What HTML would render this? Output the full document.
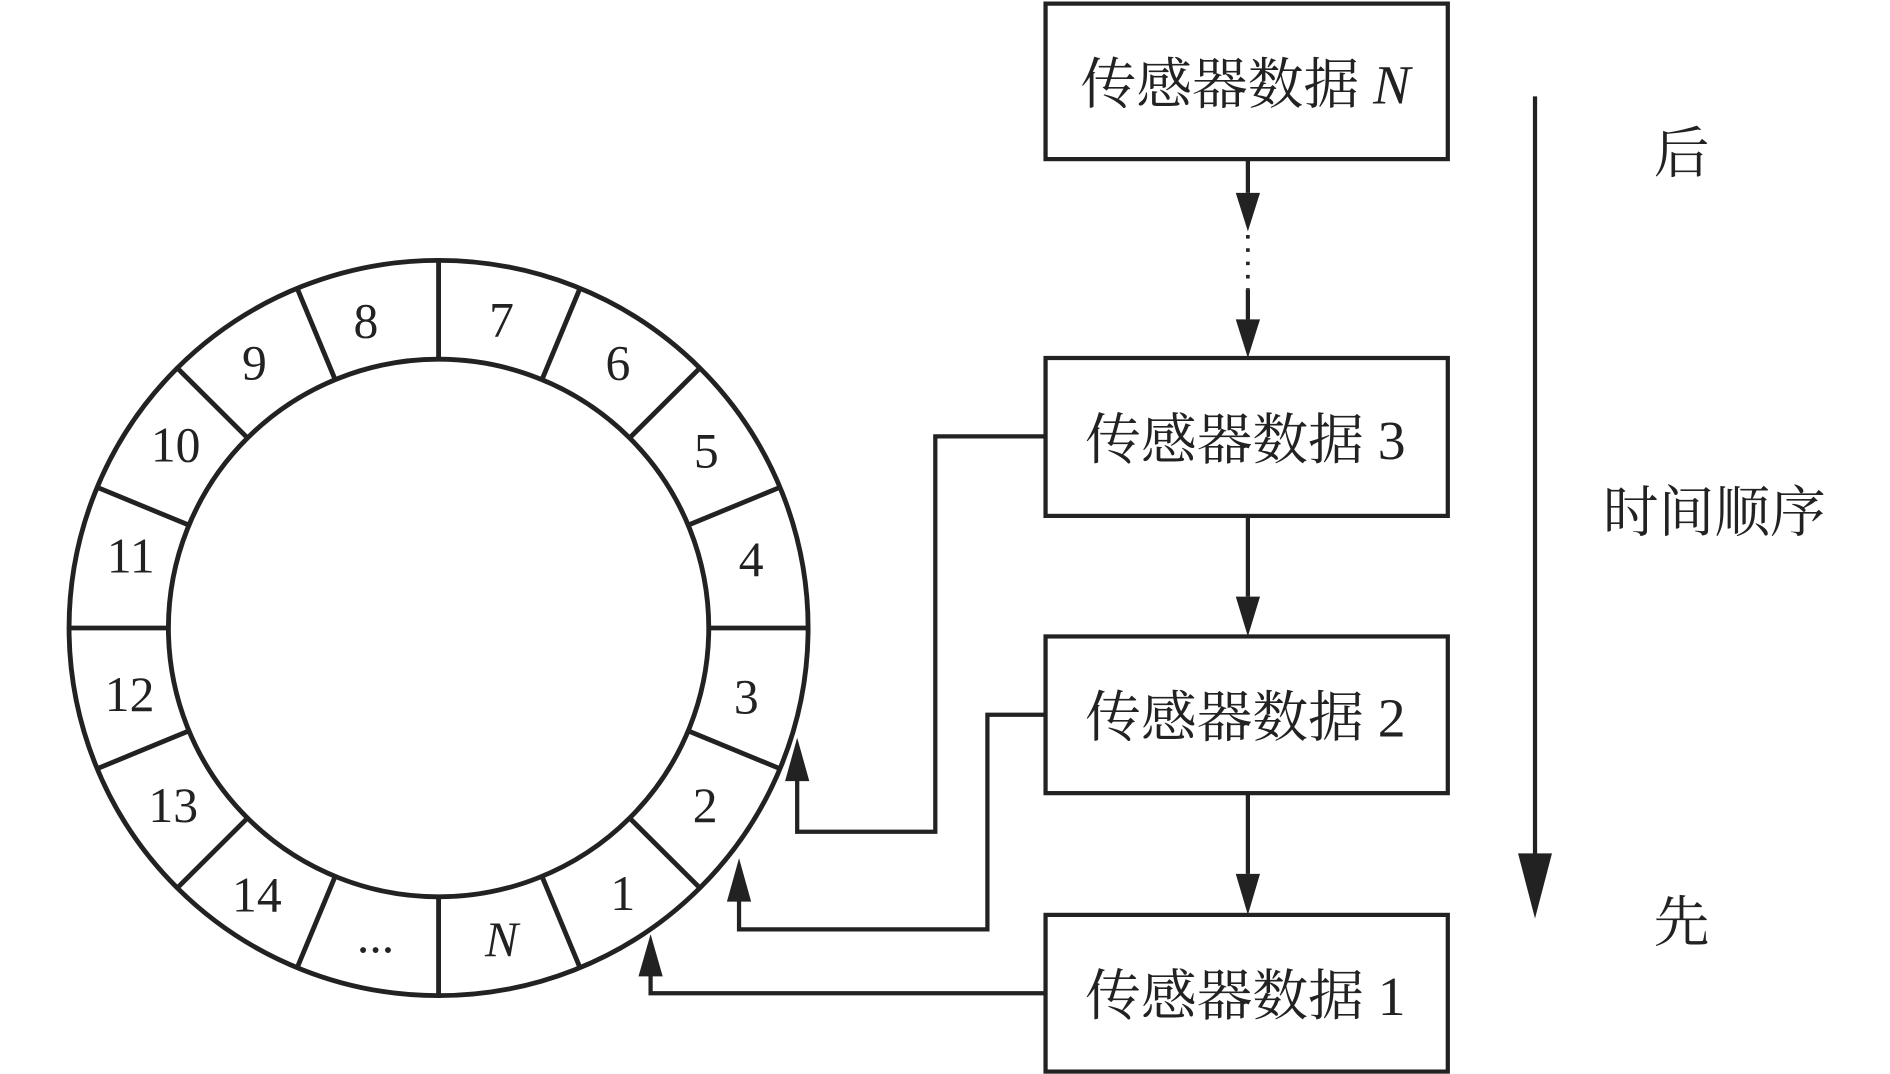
<!DOCTYPE html>
<html><head><meta charset="utf-8"><style>html,body{margin:0;padding:0;background:#fff}svg{display:block}</style></head>
<body>
<svg width="1890" height="1074" viewBox="0 0 1560 891" preserveAspectRatio="none" xmlns="http://www.w3.org/2000/svg">
<g fill="none" stroke="#222" stroke-width="4">
<circle cx="362" cy="521" r="305"/>
<circle cx="362" cy="521" r="223"/>
<g id="div">
<line x1="362" y1="216" x2="362" y2="298"/>
</g>
<use href="#div" transform="rotate(22.5 362 521)"/>
<use href="#div" transform="rotate(45 362 521)"/>
<use href="#div" transform="rotate(67.5 362 521)"/>
<use href="#div" transform="rotate(90 362 521)"/>
<use href="#div" transform="rotate(112.5 362 521)"/>
<use href="#div" transform="rotate(135 362 521)"/>
<use href="#div" transform="rotate(157.5 362 521)"/>
<use href="#div" transform="rotate(180 362 521)"/>
<use href="#div" transform="rotate(202.5 362 521)"/>
<use href="#div" transform="rotate(225 362 521)"/>
<use href="#div" transform="rotate(247.5 362 521)"/>
<use href="#div" transform="rotate(270 362 521)"/>
<use href="#div" transform="rotate(292.5 362 521)"/>
<use href="#div" transform="rotate(315 362 521)"/>
<use href="#div" transform="rotate(337.5 362 521)"/>
<rect x="863" y="3" width="332" height="129" stroke-width="3.5"/>
<rect x="863" y="297" width="332" height="131" stroke-width="3.5"/>
<rect x="863" y="528" width="332" height="130" stroke-width="3.5"/>
<rect x="863" y="759" width="332" height="130" stroke-width="3.5"/>
<line x1="1030" y1="132" x2="1030" y2="160" stroke-width="3.5"/>
<line x1="1030" y1="195" x2="1030" y2="240" stroke-width="3" stroke-dasharray="3 8"/>
<line x1="1030" y1="240" x2="1030" y2="265" stroke-width="3.5"/>
<line x1="1030" y1="428" x2="1030" y2="495" stroke-width="3.5"/>
<line x1="1030" y1="658" x2="1030" y2="725" stroke-width="3.5"/>
<line x1="1267" y1="80" x2="1267" y2="715" stroke-width="3.5"/>
<polyline points="863,362 772,362 772,690 658,690 658,645" stroke-width="3.5"/>
<polyline points="863,593 815,593 815,771 610,771 610,745" stroke-width="3.5"/>
<polyline points="863,824 537,824 537,808" stroke-width="3.5"/>
</g>
<g fill="#222">
<polygon points="1020,160 1040,160 1030,192"/>
<polygon points="1020,265 1040,265 1030,297"/>
<polygon points="1020,495 1040,495 1030,528"/>
<polygon points="1020,725 1040,725 1030,759"/>
<polygon points="1253,708 1281,708 1267,762"/>
<polygon points="648,648 668,648 658,612"/>
<polygon points="600,748 620,748 610,712"/>
<polygon points="527,810 547,810 537,775"/>
</g>
<g font-family="Liberation Serif, Noto Serif CJK SC, serif" font-size="46" fill="#222" text-anchor="middle">
<text x="1028" y="86">传感器数据 <tspan font-style="italic">N</tspan></text>
<text x="1028" y="381">传感器数据 3</text>
<text x="1028" y="611">传感器数据 2</text>
<text x="1028" y="842">传感器数据 1</text>
<text x="1388" y="143">后</text>
<text x="1415" y="441">时间顺序</text>
<text x="1388" y="781">先</text>
</g>
<g font-family="Liberation Serif, serif" font-size="41" fill="#222" text-anchor="middle">
<text x="414" y="279">7</text>
<text x="510" y="315">6</text>
<text x="583" y="388">5</text>
<text x="620" y="478">4</text>
<text x="616" y="592">3</text>
<text x="582" y="682">2</text>
<text x="514" y="755">1</text>
<text x="414" y="793" font-style="italic">N</text>
<text x="310" y="790">...</text>
<text x="212" y="756">14</text>
<text x="143" y="682">13</text>
<text x="107" y="590">12</text>
<text x="108" y="475">11</text>
<text x="145" y="383">10</text>
<text x="210" y="315">9</text>
<text x="302" y="280">8</text>
</g>
</svg>
</body></html>
